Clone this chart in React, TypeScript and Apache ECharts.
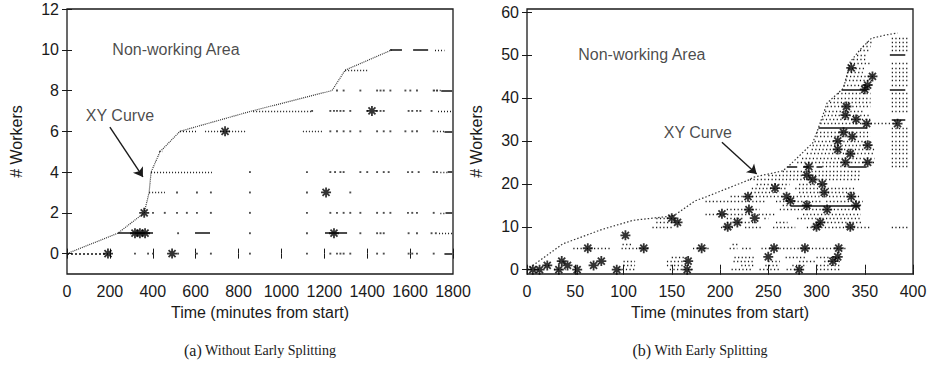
import React, { useEffect, useRef } from "react";
import * as echarts from "echarts";

// ---------- Left panel (a) Without Early Splitting ----------
const leftYTicks = [0, 2, 4, 6, 8, 10, 12];
const leftCurveX = [0, 237, 360, 383, 392, 434, 527, 863, 1236, 1297, 1516];
const leftCurveY = [0, 1, 2, 3, 4, 5, 6, 7, 8, 9, 10];
// [xStart, xEnd, workers]
const leftSolidSegs = [
  [237, 401, 1], [597, 667, 1], [1203, 1306, 1], [1506, 1562, 10], [1614, 1684, 10],
  [1760, 1796, 0], [1765, 1796, 2], [1760, 1796, 6], [1745, 1796, 8], [1775, 1796, 4],
];
const leftDashedSegs = [[0, 191, 0]];
const leftDottedSegs = [
  [392, 676, 4], [383, 457, 3], [868, 1143, 7], [527, 605, 6], [644, 840, 6],
  [1297, 1400, 9], [1100, 1195, 6], [1716, 1760, 10], [1741, 1765, 2], [1741, 1775, 4],
  [1710, 1745, 8], [1725, 1760, 6], [1730, 1796, 7], [1735, 1796, 1], [430, 445, 5],
];
const leftDots0 = [317, 378, 401, 518, 606, 671, 853, 1119, 1228, 1259, 1275, 1290, 1321, 1446, 1477, 1593, 1610, 1632, 1710];
const leftDots1 = [518, 853, 1119, 1368, 1446, 1462, 1477, 1593, 1632, 1700, 1720];
const leftDots2 = [401, 456, 513, 559, 606, 671, 853, 1119, 1228, 1259, 1290, 1321, 1368, 1446, 1477, 1508, 1590, 1610, 1632, 1710];
const leftDots3 = [513, 606, 671, 853, 1119, 1321];
const leftDots4 = [853, 1119, 1228, 1250, 1275, 1290, 1368, 1400, 1446, 1477, 1500, 1590, 1610, 1640, 1710, 1725];
const leftDots6 = [1228, 1259, 1290, 1321, 1368, 1446, 1477, 1508, 1578, 1610, 1632, 1710];
const leftDots7 = [1143, 1228, 1245, 1259, 1275, 1290, 1321, 1400, 1446, 1462, 1477, 1593, 1610, 1632, 1648, 1700];
const leftDots8 = [1259, 1290, 1368, 1446, 1462, 1477, 1508, 1578, 1601, 1632, 1710, 1725];
const leftStars = [
  [191, 0], [490, 0], [317, 1], [340, 1], [364, 1], [360, 2], [1245, 1], [1208, 3], [737, 6], [1422, 7],
];

// ---------- Right panel (b) With Early Splitting ----------
const rightYTicks = [0, 10, 20, 30, 40, 50, 60];
const rightCurveX = [0, 37, 78, 110, 150, 155, 174, 186, 231, 234, 265, 272, 296, 302, 311, 328, 335, 345, 357, 373, 384];
const rightCurveY = [0, 6, 9.4, 11.5, 12.5, 13, 16, 17, 21, 21.5, 23, 24.3, 29.5, 33, 38.8, 42.3, 48.4, 51.2, 53.9, 54.7, 55.1];
const rightSolidSegs = [
  [273, 345, 15], [302, 352, 33], [326, 352, 42], [376, 392, 42], [270, 280, 24], [286, 292, 24],
  [300, 306, 24], [333, 352, 24], [376, 392, 50], [378, 392, 35],
];
const rightDottedSegs = [
  [0, 15, 0], [28, 40, 0], [95, 112, 0], [148, 172, 0], [212, 234, 0], [241, 262, 0], [269, 286, 0], [300, 324, 0],
  [18, 25, 1], [100, 112, 1], [145, 166, 1], [222, 236, 1], [247, 262, 1], [275, 290, 1], [300, 325, 1],
  [33, 40, 2], [100, 112, 2], [145, 166, 2], [214, 234, 2], [250, 262, 2], [282, 300, 2], [308, 325, 2],
  [150, 166, 3], [215, 236, 3], [268, 290, 3], [300, 325, 3],
  [48, 58, 5], [62, 88, 5], [98, 126, 5], [172, 190, 5], [210, 218, 5], [223, 233, 5], [243, 330, 5],
  [99, 108, 6], [213, 218, 6],
  [130, 150, 10], [201, 215, 10], [226, 244, 10], [255, 278, 10], [290, 355, 10], [378, 395, 10],
  [134, 158, 11], [207, 238, 11], [258, 270, 11], [300, 346, 11],
  [134, 155, 12], [207, 225, 12], [246, 250, 12], [280, 346, 12],
  [185, 236, 13], [240, 258, 13], [286, 346, 13],
  [207, 241, 14], [262, 346, 14],
  [265, 273, 15],
  [185, 248, 16], [258, 305, 16], [310, 348, 16],
  [211, 267, 17], [272, 346, 17],
  [232, 262, 18], [282, 340, 18],
  [233, 268, 19], [278, 340, 19],
  [238, 272, 20], [282, 310, 20],
  [231, 346, 21], [250, 346, 22], [265, 346, 23], [306, 333, 24], [378, 395, 24],
  [280, 360, 25], [378, 395, 25], [285, 360, 26], [378, 395, 26], [290, 360, 27], [378, 395, 27],
  [295, 360, 28], [378, 395, 28], [296, 358, 29], [378, 395, 29], [298, 356, 30], [378, 395, 30],
  [300, 356, 31], [378, 395, 31], [300, 356, 32], [378, 395, 32], [378, 395, 33], [304, 384, 34],
  [306, 356, 35], [308, 356, 36], [309, 350, 37], [378, 395, 37], [311, 356, 38], [378, 395, 38],
  [314, 356, 39], [378, 395, 39], [318, 356, 40], [378, 395, 40], [322, 356, 41], [378, 395, 41],
  [328, 356, 43], [378, 395, 43], [330, 358, 44], [378, 395, 44], [331, 360, 45], [378, 395, 45],
  [332, 348, 46], [378, 395, 46], [333, 350, 47], [378, 395, 47], [335, 355, 48], [378, 395, 48],
  [338, 352, 49], [342, 352, 50], [345, 356, 51], [378, 395, 51], [348, 356, 52], [378, 395, 52],
  [352, 358, 53], [378, 395, 53], [378, 395, 54],
];
const rightStars = [
  [6, 0], [13, 0], [21, 1], [33, 0], [36, 2], [42, 1], [52, 0], [63, 5], [69, 1], [77, 2], [93, 0],
  [102, 8], [121, 5], [150, 12], [156, 11], [167, 2], [166, 0], [181, 5], [202, 13], [208, 10],
  [218, 11], [229, 17], [230, 14], [236, 12], [250, 3], [256, 5], [257, 19], [269, 17], [273, 16],
  [282, 0], [288, 5], [290, 15], [290, 22], [292, 24], [296, 21], [300, 10], [304, 11], [306, 20],
  [308, 18], [311, 14], [317, 2], [322, 3], [323, 5], [322, 28], [322, 30], [330, 25], [336, 17],
  [335, 10], [335, 27], [341, 15], [353, 29], [353, 25], [336, 47], [358, 45], [353, 43], [350, 42],
  [331, 38], [330, 36], [341, 35], [352, 34], [384, 34], [328, 32], [337, 31],
];

const ink = "#1a1a1a";
const font = "'Liberation Sans', Arial, Helvetica, sans-serif";
const serif = "'Liberation Serif', 'Times New Roman', serif";
const starPath = "path://M5,0L5,10M0,5L10,5M1.5,1.5L8.5,8.5M1.5,8.5L8.5,1.5";

function segData(segs: number[][]) {
  return segs.map((s) => ({ coords: [[s[0], s[2]], [s[1], s[2]]] }));
}
function rowDots(y: number, xs: number[]) {
  return xs.map((x) => [x, y]);
}

function xAxisDef(gridIndex: number, max: number, interval: number, bottom: boolean, name?: string) {
  return {
    type: "value", gridIndex, min: 0, max, interval, position: bottom ? "bottom" : "top",
    axisLine: { show: false },
    axisTick: { show: true, inside: true, length: 5, lineStyle: { color: ink, width: 1 } },
    splitLine: { show: false },
    axisLabel: bottom
      ? { show: true, fontSize: 16, fontFamily: font, color: ink, margin: 9, formatter: (v: number) => String(v) }
      : { show: false },
    name: bottom ? name : undefined, nameLocation: "middle", nameGap: 30,
    nameTextStyle: { fontSize: 16, fontFamily: font, color: ink },
  };
}
function yAxisDef(gridIndex: number, min: number, max: number, ticks: number[], left: boolean, name?: string) {
  return {
    type: "value", gridIndex, min, max, position: left ? "left" : "right",
    axisLine: { show: false },
    axisTick: { show: true, inside: true, length: 5, customValues: ticks, lineStyle: { color: ink, width: 1 } },
    splitLine: { show: false },
    axisLabel: left
      ? { show: true, customValues: ticks, fontSize: 16, fontFamily: font, color: ink, margin: 8, formatter: (v: number) => String(v) }
      : { show: false },
    name: left ? name : undefined, nameLocation: "middle", nameGap: 43, nameRotate: 90,
    nameTextStyle: { fontSize: 16, fontFamily: font, color: ink },
  };
}

function panelSeries(xi: number, yi: number, p: any) {
  const base = { xAxisIndex: xi, yAxisIndex: yi, silent: true };
  return [
    { ...base, type: "line", data: p.curveX.map((x: number, i: number) => [x, p.curveY[i]]), showSymbol: false,
      lineStyle: { color: "#333", width: 1.2, type: p.curveDash }, z: 3 },
    { ...base, type: "lines", coordinateSystem: "cartesian2d", data: segData(p.solid), lineStyle: { color: "#111", width: 1.7, type: "solid", opacity: 1 }, z: 4 },
    { ...base, type: "lines", coordinateSystem: "cartesian2d", data: segData(p.dashed), lineStyle: { color: "#111", width: 1.5, type: [2, 2], opacity: 1 }, z: 4 },
    { ...base, type: "lines", coordinateSystem: "cartesian2d", data: segData(p.dotted), lineStyle: { color: "#1a1a1a", width: 1.4, type: p.dotDash, opacity: 1 }, z: 4 },
    { ...base, type: "scatter", data: p.dots, symbol: "rect", symbolSize: 1.9, itemStyle: { color: "#222" }, z: 4 },
    { ...base, type: "scatter", data: p.stars, symbol: starPath, symbolSize: 10,
      itemStyle: { color: "none", borderColor: "#000", borderWidth: 1.8 }, z: 5 },
    { ...base, type: "lines", coordinateSystem: "cartesian2d", data: [{ coords: p.arrow }], symbol: ["none", "arrow"], symbolSize: 9,
      lineStyle: { color: ink, width: 1.4, opacity: 1, type: "solid" }, z: 6 },
    { ...base, type: "scatter", data: p.labels, symbolSize: 0,
      label: { show: true, position: "inside", formatter: "{b}", fontSize: 16, fontFamily: font, color: ink }, z: 6 },
  ];
}

export default function App() {
  const ref = useRef<HTMLDivElement>(null);
  useEffect(() => {
    if (!ref.current) return;
    const chart = echarts.init(ref.current, null, { renderer: "svg" });
    const left = {
      curveX: leftCurveX, curveY: leftCurveY, curveDash: [1, 1],
      solid: leftSolidSegs, dashed: leftDashedSegs, dotted: leftDottedSegs, dotDash: [1, 2],
      dots: [
        ...rowDots(0, leftDots0), ...rowDots(1, leftDots1), ...rowDots(2, leftDots2), ...rowDots(3, leftDots3),
        ...rowDots(4, leftDots4), ...rowDots(6, leftDots6), ...rowDots(7, leftDots7), ...rowDots(8, leftDots8),
      ],
      stars: leftStars,
      arrow: [[200, 6.2], [354, 3.76]],
      labels: [{ name: "Non-working Area", value: [508, 10] }, { name: "XY Curve", value: [247, 6.8] }],
    };
    const right = {
      curveX: rightCurveX, curveY: rightCurveY, curveDash: [1.5, 2],
      solid: rightSolidSegs, dashed: [], dotted: rightDottedSegs, dotDash: [1.2, 2.4],
      dots: [], stars: rightStars,
      arrow: [[202, 29.7], [238, 22.3]],
      labels: [{ name: "Non-working Area", value: [119, 50] }, { name: "XY Curve", value: [177, 32] }],
    };
    chart.setOption({
      animation: false,
      backgroundColor: "#ffffff",
      textStyle: { fontFamily: font },
      grid: [
        { left: 67, top: 9, width: 386, height: 265, show: true, borderColor: ink, borderWidth: 1.3, containLabel: false },
        { left: 527, top: 9, width: 386, height: 265, show: true, borderColor: ink, borderWidth: 1.3, containLabel: false },
      ],
      xAxis: [
        xAxisDef(0, 1800, 200, true, "Time (minutes from start)"),
        xAxisDef(0, 1800, 200, false),
        xAxisDef(1, 400, 50, true, "Time (minutes from start)"),
        xAxisDef(1, 400, 50, false),
      ],
      yAxis: [
        yAxisDef(0, -1, 12, leftYTicks, true, "# Workers"),
        yAxisDef(0, -1, 12, leftYTicks, false),
        yAxisDef(1, -1, 60.7, rightYTicks, true, "# Workers"),
        yAxisDef(1, -1, 60.7, rightYTicks, false),
      ],
      series: [...panelSeries(0, 0, left), ...panelSeries(2, 2, right)],
      graphic: [
        { type: "text", x: 260, y: 350, style: { text: "{a|(a)} {b|Without Early Splitting}", align: "center", verticalAlign: "middle",
          rich: { a: { fontSize: 16, fontFamily: serif, fill: ink }, b: { fontSize: 14, fontFamily: serif, fill: ink } } } },
        { type: "text", x: 700, y: 350, style: { text: "{a|(b)} {b|With Early Splitting}", align: "center", verticalAlign: "middle",
          rich: { a: { fontSize: 16, fontFamily: serif, fill: ink }, b: { fontSize: 14, fontFamily: serif, fill: ink } } } },
      ],
    });
    return () => chart.dispose();
  }, []);
  return <div ref={ref} style={{ position: "fixed", left: 0, top: 0, width: 930, height: 380 }} />;
}
